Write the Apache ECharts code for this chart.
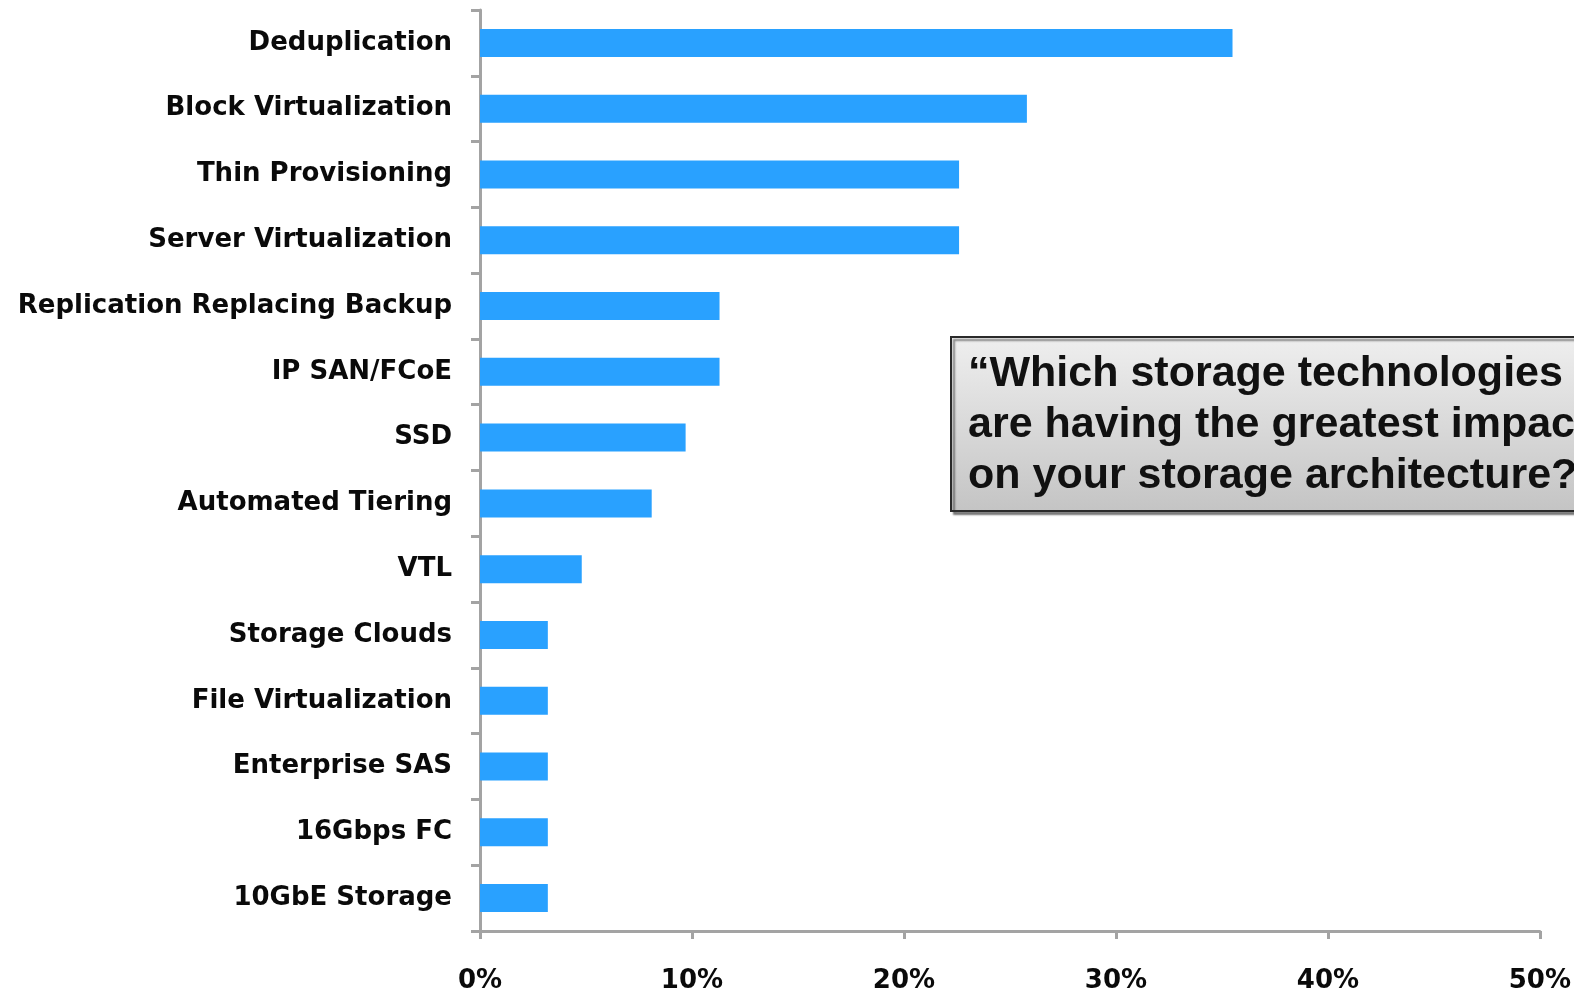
<!DOCTYPE html>
<html>
<head>
<meta charset="utf-8">
<style>
html,body{margin:0;padding:0;background:#fff;}
#chart{width:1574px;height:997px;}
</style>
<script src="https://cdn.jsdelivr.net/npm/echarts@6/dist/echarts.min.js"></script>
</head>
<body>
<div id="chart"></div>
<script>
const categories = ['Deduplication','Block Virtualization','Thin Provisioning','Server Virtualization','Replication Replacing Backup','IP SAN/FCoE','SSD','Automated Tiering','VTL','Storage Clouds','File Virtualization','Enterprise SAS','16Gbps FC','10GbE Storage'];
const values = [35.5,25.8,22.6,22.6,11.3,11.3,9.7,8.1,4.8,3.2,3.2,3.2,3.2,3.2];
const xMin = 0, xMax = 50, xInterval = 10;
const titleLines = ['\u201CWhich storage technologies','are having the greatest impact','on your storage architecture?\u201D'];

const chart = echarts.init(document.getElementById('chart'), null, {renderer:'canvas'});
const axisColor = '#a3a3a3';
chart.setOption({
  animation:false,
  backgroundColor:'#ffffff',
  grid:{left:480, right:24, top:10, bottom:66, containLabel:false},
  xAxis:{
    type:'value', min:xMin, max:xMax, interval:xInterval,
    axisLine:{show:true, lineStyle:{color:axisColor, width:3}},
    axisTick:{show:true, length:8, lineStyle:{color:axisColor, width:3}},
    splitLine:{show:false},
    axisLabel:{formatter:'{value}%', fontFamily:'DejaVu Sans', fontWeight:'bold', fontSize:26, color:'#0a0a0a', margin:37}
  },
  yAxis:{
    type:'category', data:categories, inverse:true,
    axisLine:{show:true, lineStyle:{color:axisColor, width:3}},
    axisTick:{show:true, length:9, lineStyle:{color:axisColor, width:3}},
    axisLabel:{fontFamily:'DejaVu Sans', fontWeight:'bold', fontSize:26, color:'#0a0a0a', margin:28}
  },
  series:[{
    type:'bar', data:values, barWidth:28,
    itemStyle:{color:'#29a1ff'}
  }],
  graphic:[
    {type:'rect', left:950, top:336, z:10,
     shape:{width:700, height:174},
     style:{
       fill:new echarts.graphic.LinearGradient(0,0,0,1,[{offset:0,color:'#efefef'},{offset:1,color:'#c4c4c4'}]),
       stroke:'#2a2a2a', lineWidth:2,
       shadowColor:'rgba(0,0,0,0.45)', shadowOffsetX:3, shadowOffsetY:3, shadowBlur:2
     }},
    {type:'text', left:968, top:349, z:11,
     style:{text:titleLines.join('\n'), font:'bold 43px "Liberation Sans", Arial, sans-serif', fill:'#111', lineHeight:51}}
  ]
});
</script>
</body>
</html>
